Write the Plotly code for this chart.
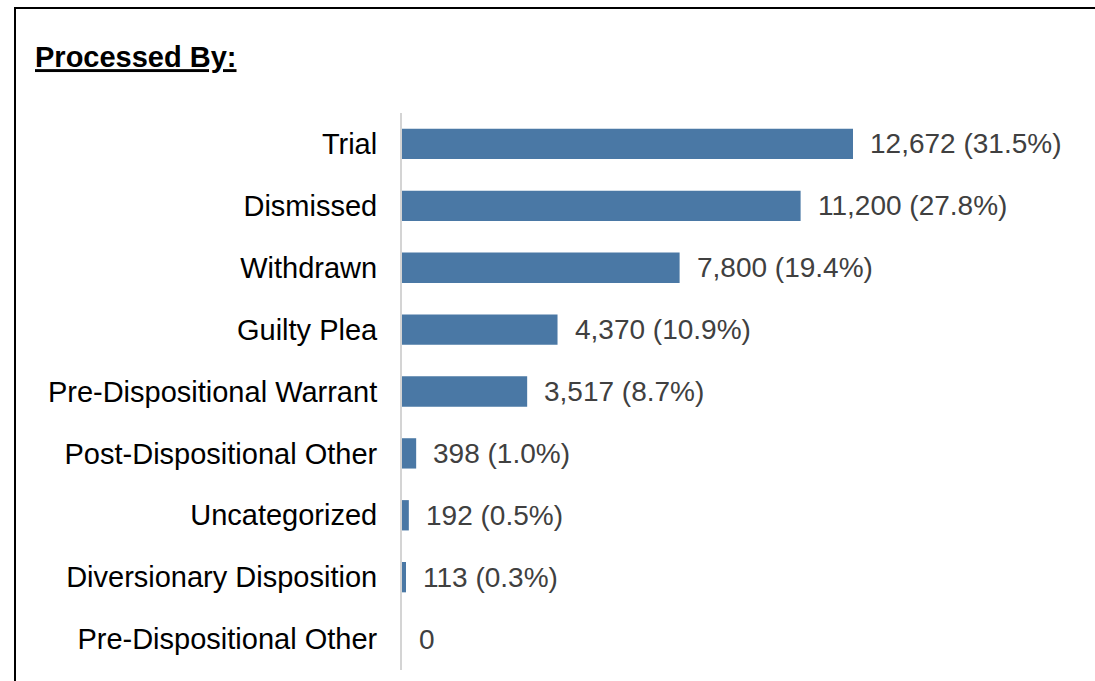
import plotly.graph_objects as go

categories = ["Trial", "Dismissed", "Withdrawn", "Guilty Plea", "Pre-Dispositional Warrant",
              "Post-Dispositional Other", "Uncategorized", "Diversionary Disposition",
              "Pre-Dispositional Other"]
counts = [12672, 11200, 7800, 4370, 3517, 398, 192, 113, 0]
percents = [31.5, 27.8, 19.4, 10.9, 8.7, 1.0, 0.5, 0.3, None]

labels = [f"{c:,} ({p:.1f}%)" if p is not None else f"{c:,}" for c, p in zip(counts, percents)]

W, H = 1095, 681
L, R, T, B = 402, 15, 113, 11
pw, ph = W - L - R, H - T - B

FONT = "Liberation Sans, Arial, sans-serif"

fig = go.Figure()
fig.add_trace(go.Bar(
    x=counts, y=categories, orientation="h",
    marker=dict(color="#4a78a5", line=dict(width=0)),
    hoverinfo="skip",
))

for c, cat, lab in zip(counts, categories, labels):
    fig.add_annotation(x=c, y=cat, xref="x", yref="y", text=lab, showarrow=False,
                       xanchor="left", yanchor="middle", xshift=15,
                       font=dict(family=FONT, size=28, color="#404040"))

def px_x(p):
    return (p - L) / pw

def px_y(p):
    return (H - B - p) / ph

# outer frame (left and top edges visible)
fig.add_shape(type="line", xref="paper", yref="paper",
              x0=px_x(15), x1=px_x(15), y0=px_y(8), y1=px_y(700),
              line=dict(color="black", width=2))
fig.add_shape(type="line", xref="paper", yref="paper",
              x0=px_x(14), x1=px_x(1110), y0=px_y(8), y1=px_y(8),
              line=dict(color="black", width=2))

fig.update_layout(
    width=W, height=H,
    margin=dict(l=L, r=R, t=T, b=B, autoexpand=False),
    plot_bgcolor="white", paper_bgcolor="white",
    bargap=0.51,
    showlegend=False,
    font=dict(family=FONT, size=29, color="#000000"),
    title=dict(text="<b><u>Processed By:</u></b>", xref="container", yref="container",
               x=35 / W, xanchor="left", y=1 - 57 / H, yanchor="middle",
               font=dict(family=FONT, size=29, color="#000000")),
    xaxis=dict(range=[0, 19050], visible=False, fixedrange=True),
    yaxis=dict(categoryorder="array", categoryarray=categories, autorange="reversed",
               showline=True, linecolor="#d4d4d4", linewidth=2, showgrid=False,
               zeroline=False, ticks="", ticklabelstandoff=17, fixedrange=True,
               tickfont=dict(family=FONT, size=29, color="#000000")),
)

fig.write_html("out.html", config={"displayModeBar": False, "staticPlot": True},
               post_script="document.body.style.margin='0';document.body.style.overflow='hidden';")
